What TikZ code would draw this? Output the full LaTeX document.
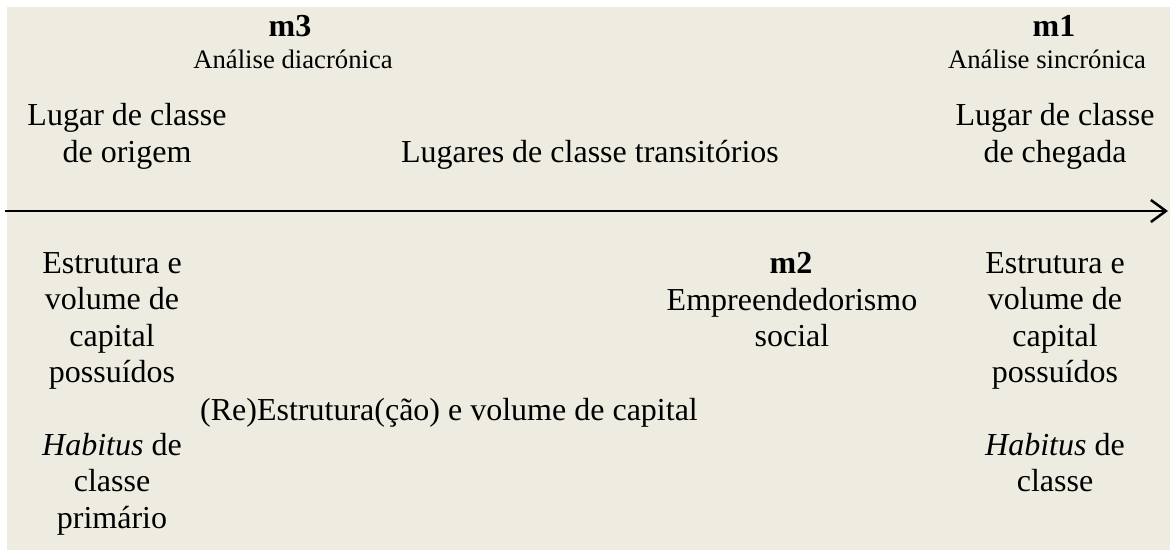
\documentclass[tikz,border=0pt]{standalone}
\usepackage{fontspec}
\setmainfont{Liberation Serif}
\usetikzlibrary{arrows.meta}
\definecolor{bgbeige}{HTML}{EEECE1}
\tikzset{
  maintext/.style={font=\fontsize{32}{36.5}\selectfont, align=center, inner sep=0pt, anchor=base},
  mlabel/.style={font=\fontsize{32}{36.5}\selectfont\bfseries, inner sep=0pt, anchor=base},
  analysis/.style={font=\fontsize{26.7}{30}\selectfont, inner sep=0pt, anchor=base},
  axis/.style={line width=2.5pt, -{Straight Barb[length=15pt,width=22pt,line width=2.5pt]}}
}
\begin{document}
\begin{tikzpicture}[x=1pt,y=-1pt]
\useasboundingbox (0,0) rectangle (1170,550);
\fill[bgbeige] (7,7) rectangle (1170,550);
% top (multi-line nodes: base anchor = baseline of last line)
\node[mlabel] (m3) at (290,36) {m3};
\node[analysis] (diac) at (293,68) {Análise diacrónica};
\node[mlabel] (m1) at (1054,36) {m1};
\node[analysis] (sinc) at (1047,68) {Análise sincrónica};
\node[maintext] (orig) at (127,162) {Lugar de classe\\de origem};
\node[maintext] (trans) at (590,162) {Lugares de classe transitórios};
\node[maintext] (cheg) at (1055,162) {Lugar de classe\\de chegada};
% axis
\coordinate (axstart) at (5,211);
\coordinate (axend) at (1168,211);
\draw[axis] (axstart) -- (axend);
% bottom
\node[maintext] (estl) at (112,382.5) {Estrutura e\\volume de\\capital\\possuídos};
\node[maintext] (habl) at (112,528) {\textit{Habitus} de\\classe\\primário};
\node[mlabel] (m2) at (791,273) {m2};
\node[maintext] (emp) at (792,346.5) {Empreendedorismo\\social};
\node[maintext] (rest) at (449,420) {(Re)Estrutura(ção) e volume de capital};
\node[maintext] (estr) at (1055,382.5) {Estrutura e\\volume de\\capital\\possuídos};
\node[maintext] (habr) at (1055,491.5) {\textit{Habitus} de\\classe};
\end{tikzpicture}
\end{document}
